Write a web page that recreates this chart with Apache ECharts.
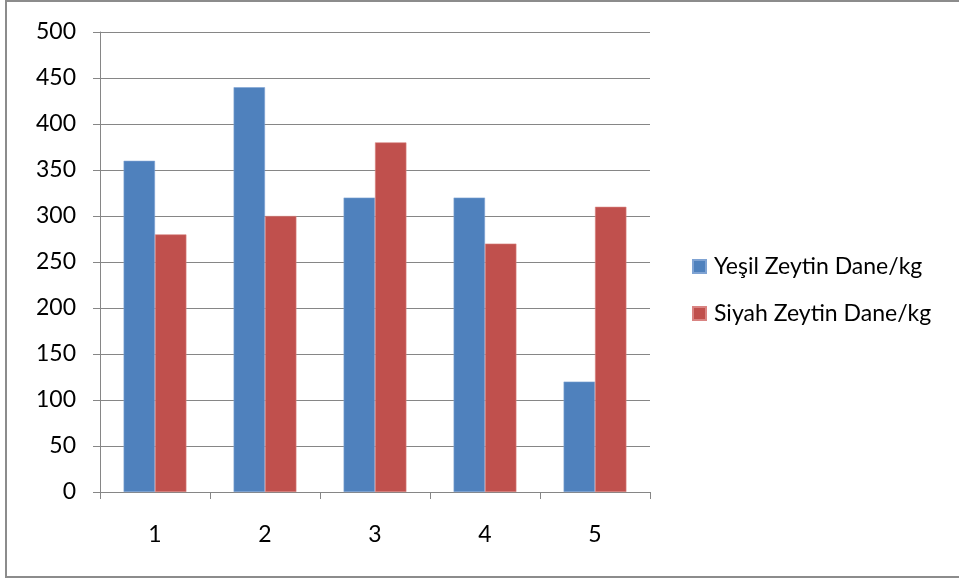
<!DOCTYPE html>
<html>
<head>
<meta charset="utf-8">
<script src="https://cdn.jsdelivr.net/npm/echarts@6/dist/echarts.min.js"></script>
<style>
html,body{margin:0;padding:0;background:#fff;}
#chart{width:959px;height:580px;}
</style>
</head>
<body>
<div id="chart"></div>
<script>
var categories = ['1', '2', '3', '4', '5'];
var seriesNames = ['Yeşil Zeytin Dane/kg', 'Siyah Zeytin Dane/kg'];
var greenValues = [360, 440, 320, 320, 120];
var blackValues = [280, 300, 380, 270, 310];

var chart = echarts.init(document.getElementById('chart'), null, {renderer: 'canvas'});
var fontFam = 'Lato, "Open Sans", sans-serif';
chart.setOption({
  animation: false,
  backgroundColor: '#fff',
  graphic: [{
    type: 'rect',
    shape: {x: 6, y: 1, width: 1000, height: 576},
    style: {fill: 'none', stroke: '#8c8c8c', lineWidth: 2},
    silent: true
  }],
  grid: {left: 100, right: 309, top: 32, bottom: 88, containLabel: false},
  legend: {
    orient: 'vertical',
    left: 692,
    top: 255,
    padding: 0,
    itemWidth: 13,
    itemHeight: 13,
    itemGap: 24,
    icon: 'rect',
    textStyle: {fontFamily: fontFam, fontSize: 23, color: '#000', padding: [0, 0, 0, 3]},
    data: seriesNames
  },
  xAxis: {
    type: 'category',
    data: categories,
    axisLine: {lineStyle: {color: '#868686', width: 1}},
    axisTick: {show: true, length: 7, lineStyle: {color: '#868686'}},
    axisLabel: {fontFamily: fontFam, fontSize: 23, color: '#000', margin: 31}
  },
  yAxis: {
    type: 'value',
    min: 0,
    max: 500,
    interval: 50,
    axisLine: {show: true, lineStyle: {color: '#868686', width: 1}},
    axisTick: {show: true, inside: false, length: 7, lineStyle: {color: '#868686'}},
    splitLine: {show: true, lineStyle: {color: '#868686', width: 1}},
    axisLabel: {fontFamily: fontFam, fontSize: 23, color: '#000', margin: 24}
  },
  series: [
    {
      name: seriesNames[0],
      type: 'bar',
      data: greenValues,
      barWidth: 31.4,
      barGap: '0%',
      itemStyle: {color: '#4F81BD', borderColor: '#7FA3D3', borderWidth: 0.6}
    },
    {
      name: seriesNames[1],
      type: 'bar',
      data: blackValues,
      barWidth: 31.4,
      barGap: '0%',
      itemStyle: {color: '#C0504D', borderColor: '#D98482', borderWidth: 0.6}
    }
  ]
});
</script>
</body>
</html>
